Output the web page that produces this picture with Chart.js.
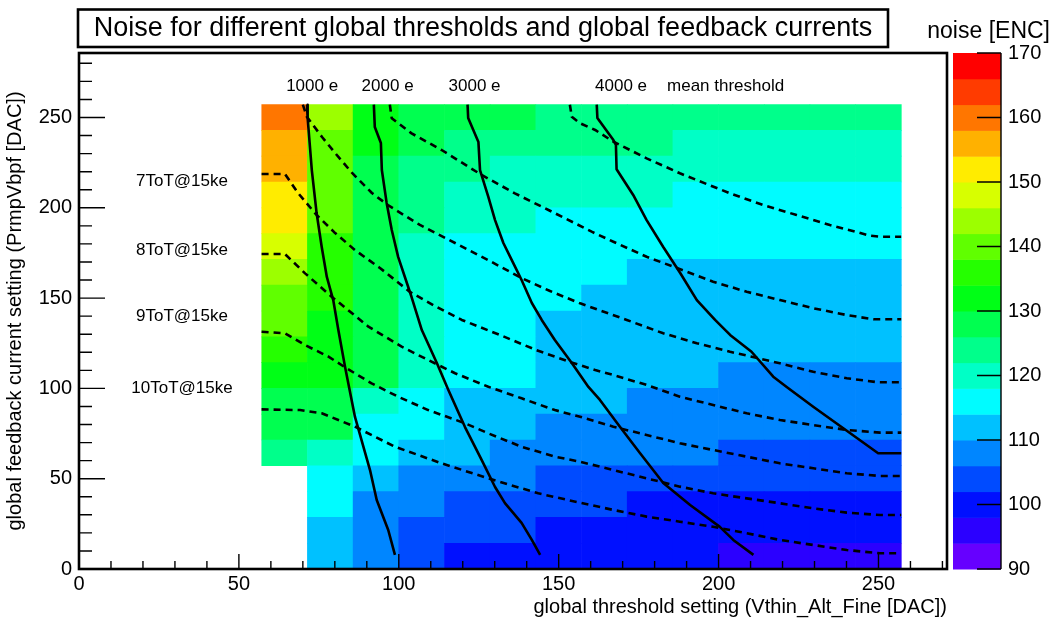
<!DOCTYPE html>
<html>
<head>
<meta charset="utf-8">
<title>Noise map</title>
<script src="https://cdn.jsdelivr.net/npm/chart.js@4"></script>
<style>
  html, body { margin: 0; padding: 0; background: #fff; }
  #wrap { width: 1056px; height: 622px; }
</style>
</head>
<body>
<div id="wrap"><canvas id="noiseChart" width="1056" height="622"></canvas></div>
<script>
// bin centres of the 2D histogram (DAC units), bin width 100/7
const thresholdBins = [64.29, 78.57, 92.86, 107.14, 121.43, 135.71, 150.0, 164.29, 178.57, 192.86, 207.14, 221.43, 235.71, 250.0];
const feedbackBins = [7.14, 21.43, 35.71, 50.0, 64.29, 78.57, 92.86, 107.14, 121.43, 135.71, 150.0, 164.29, 178.57, 192.86, 207.14, 221.43, 235.71, 250.0];
const binWidth = 100 / 7;

// noise [ENC], one row per feedbackBins entry (bottom -> top), null = no measurement
const noise = [
  [null, 112, 108, 104, 100, 100, 100, 100, 100, 100, 96, 96, 96, 96],
  [null, 112, 108, 104, 104, 104, 100, 100, 100, 100, 100, 100, 100, 100],
  [null, 116, 108, 108, 104, 104, 104, 104, 100, 100, 100, 100, 100, 100],
  [null, 116, 112, 108, 108, 108, 104, 104, 104, 104, 104, 104, 104, 104],
  [124, 120, 116, 112, 112, 108, 108, 108, 108, 108, 104, 104, 104, 104],
  [128, 128, 116, 116, 112, 112, 108, 108, 108, 108, 108, 108, 108, 108],
  [128, 128, 120, 116, 112, 112, 112, 112, 108, 108, 108, 108, 108, 108],
  [132, 132, 128, 120, 116, 116, 112, 112, 112, 112, 108, 108, 108, 108],
  [136, 132, 128, 120, 116, 116, 112, 112, 112, 112, 112, 112, 112, 112],
  [140, 132, 128, 120, 116, 116, 112, 112, 112, 112, 112, 112, 112, 112],
  [140, 136, 128, 120, 116, 116, 116, 112, 112, 112, 112, 112, 112, 112],
  [144, 136, 128, 120, 116, 116, 116, 116, 112, 112, 112, 112, 112, 112],
  [148, 136, 128, 120, 116, 116, 116, 116, 116, 116, 116, 116, 116, 116],
  [152, 140, 128, 124, 120, 120, 116, 116, 116, 116, 116, 116, 116, 116],
  [152, 140, 128, 124, 120, 120, 120, 120, 120, 116, 116, 116, 116, 116],
  [156, 140, 128, 124, 124, 120, 120, 120, 120, 120, 120, 120, 120, 120],
  [156, 140, 132, 128, 124, 124, 124, 124, 124, 120, 120, 120, 120, 120],
  [160, 144, 132, 128, 128, 128, 124, 124, 124, 124, 124, 124, 124, 124]
];

// mean threshold contours (solid)
const thr1000 = [[71.3,257.1],[71.5,249.7],[72.8,220.9],[74.3,197.1],[75.9,178.3],[77.5,161.7],[79.5,148.9],[81.1,132.3],[83.2,111.9],[86.3,84.2],[91.0,54.8],[93.1,38.2],[96.7,21.6],[98.8,7.8]];
const thr2000 = [[92.2,257.1],[92.5,244.7],[94.4,235.9],[94.7,220.9],[96.2,202.7],[97.8,187.7],[99.8,172.8],[101.9,161.7],[104.0,150.6],[107.2,132.3],[111.9,114.1],[115.5,99.1],[120.7,78.6],[125.9,60.4],[130.1,45.4],[133.2,36.5],[138.4,25.5],[141.6,16.1],[144.2,7.8]];
const thr3000 = [[121.5,257.1],[121.7,249.7],[124.9,236.4],[125.4,220.9],[128.0,206.0],[130.1,193.2],[132.7,180.5],[135.8,169.4],[138.4,160.0],[141.6,147.3],[144.7,137.9],[148.8,126.8],[154.1,114.1],[159.3,100.8],[162.9,93.6],[169.2,78.6],[175.4,64.2],[182.7,47.6],[191.1,35.4],[200.4,23.3],[204.6,16.1],[210.9,7.8]];
const thr4000 = [[161.9,257.1],[162.1,249.7],[167.1,237.5],[167.9,234.8],[168.1,221.3],[173.3,207.1],[177.5,193.2],[182.7,178.3],[188.0,163.9],[193.2,148.9],[198.9,137.9],[203.6,129.6],[210.3,120.3],[217.1,106.5],[221.3,100.8],[229.6,89.8],[239.0,77.9],[249.9,64.1],[257.1,64.1]];

// ToT@15ke contours (dashed)
const tot4 = [[153.5,257.1],[154.1,250.4],[156.7,246.8],[161.4,243.1],[167.1,236.6],[177.5,227.4],[187.9,219.1],[203.6,208.0],[214.0,201.5],[224.4,196.0],[234.8,190.5],[247.3,184.6],[250.5,184.0],[257.1,184.0]];
const tot5 = [[97.2,257.1],[97.8,249.6],[104.0,241.2],[113.4,232.0],[125.9,218.2],[136.3,208.0],[146.8,198.8],[160.3,186.8],[167.1,181.2],[177.5,172.9],[185.8,167.4],[198.3,159.1],[208.8,153.5],[219.2,148.9],[229.6,144.4],[240.1,140.6],[248.4,138.3],[257.1,138.3]];
const tot6 = [[70.0,257.1],[71.3,250.3],[76.0,239.2],[80.1,230.3],[85.4,219.3],[91.6,208.2],[96.6,201.5],[106.6,190.5],[117.6,180.5],[128.5,170.5],[138.4,161.1],[147.3,153.9],[156.7,147.1],[171.3,137.9],[182.7,130.5],[193.2,125.0],[203.6,120.3],[219.2,113.9],[229.6,109.2],[240.1,105.6],[249.9,103.4],[257.1,103.4]];
const tot7 = [[57.1,218.7],[64.4,218.7],[68.5,208.2],[74.3,196.0],[80.1,186.0],[86.3,176.6],[94.1,166.7],[103.5,153.4],[111.3,145.6],[119.7,137.9],[131.6,129.6],[142.9,121.3],[153.2,114.8],[161.4,110.2],[167.1,107.4],[177.5,101.9],[187.9,95.4],[198.3,90.8],[208.8,86.2],[219.2,82.5],[229.6,79.7],[240.1,77.0],[250.5,75.5],[257.1,75.5]];
const tot8 = [[57.1,174.4],[64.4,174.4],[70.7,163.7],[79.0,150.8],[90.5,134.2],[100.9,123.1],[109.2,115.7],[117.6,108.4],[128.0,100.9],[138.4,94.5],[148.8,88.0],[156.7,84.3],[167.1,78.8],[177.5,74.2],[187.9,69.6],[198.3,65.9],[208.8,62.2],[219.2,58.5],[229.6,55.8],[240.1,53.0],[250.5,51.5],[257.1,51.5]];
const tot9 = [[57.1,131.4],[64.4,130.5],[70.7,124.0],[78.0,117.6],[83.7,111.1],[91.5,102.8],[99.8,95.4],[109.2,88.0],[120.7,80.7],[128.0,75.1],[138.4,67.7],[148.8,62.2],[156.7,59.4],[167.1,54.8],[177.5,50.2],[187.9,45.6],[198.3,41.9],[208.8,39.1],[219.2,36.4],[229.6,33.6],[240.1,31.2],[250.5,29.9],[257.1,29.9]];
const tot10 = [[57.1,88.4],[69.1,88.0],[75.9,86.2],[86.3,78.8],[98.8,67.7],[113.4,58.5],[128.0,50.2],[143.6,41.9],[156.7,36.7],[167.1,32.7],[177.5,29.0],[187.9,26.2],[198.3,23.4],[208.8,19.8],[219.2,16.1],[229.6,13.3],[240.1,10.5],[250.5,8.7],[257.1,8.7]];

// text annotations (data coordinates)
const thresholdLabels = ['1000 e', '2000 e', '3000 e', '4000 e', 'mean threshold'];
const thresholdLabelX = [72.9, 96.5, 123.7, 169.5, 202.2];
const thresholdLabelY = 267.4;
const totLabels = ['7ToT@15ke', '8ToT@15ke', '9ToT@15ke', '10ToT@15ke'];
const totLabelY = [214.5, 176.6, 139.7, 100.1];
const totLabelX = 32.2;

// axis ticks
const thresholdTicks = [0, 50, 100, 150, 200, 250];
const feedbackTicks = [0, 50, 100, 150, 200, 250];
const noiseTicks = [90, 100, 110, 120, 130, 140, 150, 160, 170];
const noiseMin = 90, noiseMax = 170, noiseStep = 4;

const FONT = "'Liberation Sans', Arial, Helvetica, sans-serif";

// ROOT "pretty palette": violet -> red, 20 levels
function noiseColor(v) {
    const n = (noiseMax - noiseMin) / noiseStep;
    let i = Math.floor((v - noiseMin) / noiseStep);
    i = Math.max(0, Math.min(n - 1, i));
    const hue = 264 - i * 264 / (n - 1);
    return `hsl(${hue.toFixed(1)}, 100%, 50%)`;
}

const cellDatasets = feedbackBins.map((yc, r) => {
    const pts = [];
    const colors = [];
    thresholdBins.forEach((xc, c) => {
        const v = noise[r][c];
        if (v === null) return;
        pts.push({ x: xc, y: [yc - binWidth / 2, yc + binWidth / 2] });
        colors.push(noiseColor(v));
    });
    return {
        type: 'bar',
        data: pts,
        backgroundColor: colors,
        borderWidth: 0,
        grouped: false,
        barPercentage: 1,
        categoryPercentage: 1,
        order: 2
    };
});

function contour(points, dashed) {
    return {
        type: 'line',
        data: points.map(([x, y]) => ({ x, y })),
        borderColor: '#000',
        borderWidth: 2.6,
        borderDash: dashed ? [7, 5] : [],
        borderJoinStyle: 'round',
        pointRadius: 0,
        fill: false,
        tension: 0,
        order: 1
    };
}

const lineDatasets = [
    contour(thr1000, false), contour(thr2000, false), contour(thr3000, false), contour(thr4000, false),
    contour(tot4, true), contour(tot5, true), contour(tot6, true), contour(tot7, true),
    contour(tot8, true), contour(tot9, true), contour(tot10, true)
];

// frame, inner ticks, annotations, title box and colour bar
const rootDecor = {
    id: 'rootDecor',
    afterDatasetsDraw(chart) {
        const { ctx, chartArea: a, scales: { x, y } } = chart;
        ctx.save();
        ctx.strokeStyle = '#000';
        ctx.lineWidth = 1.4;
        ctx.beginPath();
        for (let v = 0; v <= x.max; v += 10) {
            const px = x.getPixelForValue(v);
            const len = v % 50 === 0 ? 15 : 8;
            ctx.moveTo(px, a.bottom);
            ctx.lineTo(px, a.bottom - len);
        }
        for (let v = 0; v <= y.max; v += 10) {
            const py = y.getPixelForValue(v);
            const len = v % 50 === 0 ? 26 : 13;
            ctx.moveTo(a.left, py);
            ctx.lineTo(a.left + len, py);
        }
        ctx.stroke();

        ctx.lineWidth = 2.6;
        ctx.strokeRect(a.left, a.top, a.right - a.left, a.bottom - a.top);

        ctx.fillStyle = '#000';
        ctx.font = `17px ${FONT}`;
        ctx.textAlign = 'center';
        ctx.textBaseline = 'middle';
        thresholdLabels.forEach((t, i) => {
            ctx.fillText(t, x.getPixelForValue(thresholdLabelX[i]), y.getPixelForValue(thresholdLabelY));
        });
        totLabels.forEach((t, i) => {
            ctx.fillText(t, x.getPixelForValue(totLabelX), y.getPixelForValue(totLabelY[i]));
        });
        ctx.restore();
    },
    afterDraw(chart) {
        const { ctx, chartArea: a, scales: { z } } = chart;
        ctx.save();
        // colour bar
        const left = a.right + 6, right = a.right + 54;
        for (let v = noiseMin; v < noiseMax; v += noiseStep) {
            const y0 = z.getPixelForValue(v);
            const y1 = z.getPixelForValue(v + noiseStep);
            ctx.fillStyle = noiseColor(v + noiseStep / 2);
            ctx.fillRect(left, y1, right - left, y0 - y1 + 0.5);
        }
        ctx.strokeStyle = '#000';
        ctx.lineWidth = 1.4;
        ctx.beginPath();
        ctx.moveTo(right, z.top);
        ctx.lineTo(right, z.bottom);
        noiseTicks.forEach(v => {
            const py = z.getPixelForValue(v);
            ctx.moveTo(right, py);
            ctx.lineTo(right - 24, py);
        });
        ctx.stroke();

        ctx.fillStyle = '#000';
        ctx.font = `23px ${FONT}`;
        ctx.textAlign = 'right';
        ctx.textBaseline = 'middle';
        ctx.fillText('noise [ENC]', 1050, 32);

        // title box
        ctx.lineWidth = 2.6;
        ctx.strokeRect(78, 9.5, 810, 37.5);
        ctx.font = `27px ${FONT}`;
        ctx.textAlign = 'center';
        ctx.fillText('Noise for different global thresholds and global feedback currents', 483, 29);
        ctx.restore();
    }
};

const tickFont = { family: FONT, size: 20 };

// vertical scales would otherwise reserve label half-heights + padding above/below the plot
function noEndPadding(s) {
    s.paddingTop = 0;
    s.paddingBottom = 0;
}

new Chart(document.getElementById('noiseChart'), {
    type: 'bar',
    data: { datasets: [...lineDatasets, ...cellDatasets] },
    options: {
        responsive: false,
        animation: false,
        events: [],
        layout: { padding: { top: 53, left: 0, right: 0, bottom: 0 } },
        plugins: { legend: { display: false }, tooltip: { enabled: false }, title: { display: false } },
        scales: {
            x: {
                type: 'linear',
                min: 0,
                max: 19 * binWidth,
                offset: false,
                grid: { display: false, drawTicks: false, offset: false },
                border: { display: false },
                afterBuildTicks: s => { s.ticks = thresholdTicks.map(v => ({ value: v })); },
                ticks: { font: tickFont, color: '#000', padding: 3, maxRotation: 0, autoSkip: false },
                title: {
                    display: true, text: 'global threshold setting (Vthin_Alt_Fine [DAC])', align: 'end',
                    font: tickFont, color: '#000', padding: { top: 0, bottom: 3 }
                },
                afterFit: s => { s.height = 53; s.paddingLeft = 0; s.paddingRight = 0; }
            },
            y: {
                type: 'linear',
                position: 'left',
                min: 0,
                max: 20 * binWidth,
                grid: { display: false, drawTicks: false },
                border: { display: false },
                afterBuildTicks: s => { s.ticks = feedbackTicks.map(v => ({ value: v })); },
                ticks: { font: tickFont, color: '#000', padding: 7, autoSkip: false },
                title: {
                    display: true, text: 'global feedback current setting (PrmpVbpf [DAC])',
                    font: tickFont, color: '#000', padding: { top: 3, bottom: 0 }
                },
                afterFit: s => { s.width = 79; noEndPadding(s); }
            },
            z: {
                type: 'linear',
                position: 'right',
                min: noiseMin,
                max: noiseMax,
                grid: { display: false, drawTicks: false },
                border: { display: false },
                afterBuildTicks: s => { s.ticks = noiseTicks.map(v => ({ value: v })); },
                ticks: { font: tickFont, color: '#000', padding: 61, autoSkip: false },
                afterFit: s => { s.width = 109; noEndPadding(s); }
            }
        }
    },
    plugins: [rootDecor]
});
</script>
</body>
</html>
